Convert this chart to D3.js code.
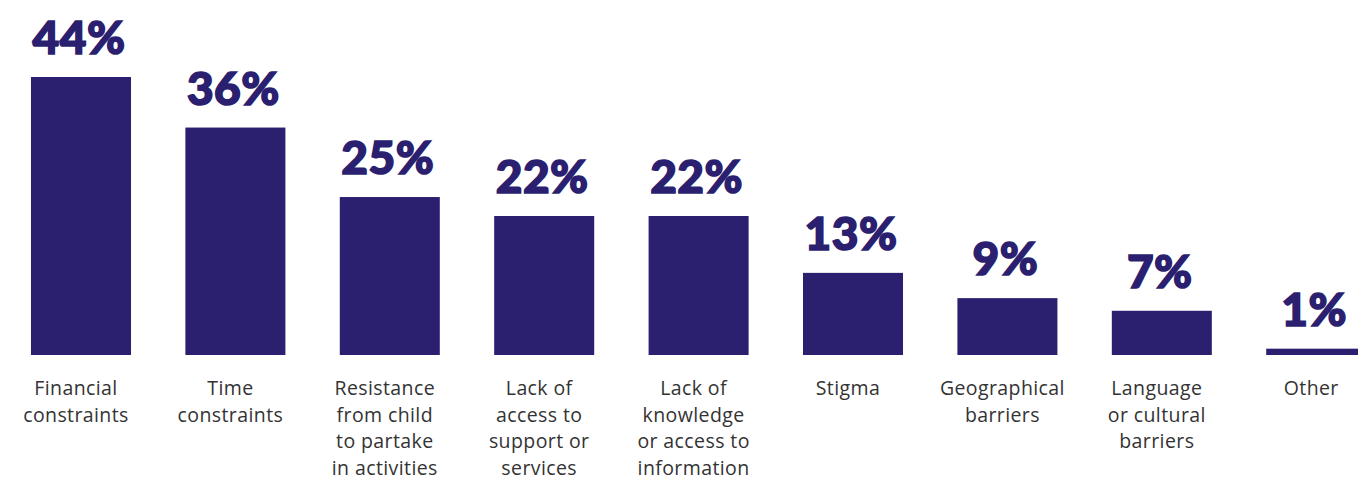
<!DOCTYPE html>
<html>
<head>
<meta charset="utf-8">
<script src="https://cdn.jsdelivr.net/npm/d3@7"></script>
<style>
  body { margin: 0; background: #fff; overflow: hidden; }
  .value { font-family: "Lato", "Inter", sans-serif; font-weight: 900; fill: #2b1f70; stroke: #2b1f70; stroke-width: 1.6; }
  .cat { font-family: "Open Sans", "Noto Sans", sans-serif; fill: #333; }
</style>
</head>
<body>
<div id="chart"></div>
<script>
// barriers data
const categories = [
  "Financial constraints",
  "Time constraints",
  "Resistance from child to partake in activities",
  "Lack of access to support or services",
  "Lack of knowledge or access to information",
  "Stigma",
  "Geographical barriers",
  "Language or cultural barriers",
  "Other"
];
const labelLines = [
  ["Financial", "constraints"],
  ["Time", "constraints"],
  ["Resistance", "from child", "to partake", "in activities"],
  ["Lack of", "access to", "support or", "services"],
  ["Lack of", "knowledge", "or access to", "information"],
  ["Stigma"],
  ["Geographical", "barriers"],
  ["Language", "or cultural", "barriers"],
  ["Other"]
];
const values = [44, 36, 25, 22, 22, 13, 9, 7, 1];

const width = 1358, height = 478;
const baseline = 355;

const svg = d3.select("#chart")
  .append("svg")
  .attr("width", width)
  .attr("height", height);

const x = d3.scaleBand()
  .domain(categories)
  .range([3.8, 1393.4])
  .paddingInner(0.3523)
  .paddingOuter(0.176);

const y = d3.scaleLinear()
  .domain([0, 44])
  .range([baseline, 77]);

const data = categories.map((c, i) => ({ cat: c, value: values[i], lines: labelLines[i] }));

svg.selectAll("rect.bar")
  .data(data)
  .enter()
  .append("rect")
  .attr("class", "bar")
  .attr("x", d => x(d.cat))
  .attr("y", d => y(d.value))
  .attr("width", x.bandwidth())
  .attr("height", d => baseline - y(d.value))
  .attr("fill", "#2b1f70");

svg.selectAll("text.value")
  .data(data)
  .enter()
  .append("text")
  .attr("class", "value")
  .attr("x", d => x(d.cat) + x.bandwidth() / 2 - 2)
  .attr("y", d => y(d.value) - 23)
  .attr("text-anchor", "middle")
  .attr("font-size", 46)
  .attr("letter-spacing", "0.5")
  .text(d => d.value + "%");

// category labels sit a little left of the bar centre
const cats = svg.selectAll("text.cat")
  .data(data)
  .enter()
  .append("text")
  .attr("class", "cat")
  .attr("text-anchor", "middle")
  .attr("font-size", 19.5)
  .attr("letter-spacing", "0.4")
  .attr("y", 395);

cats.selectAll("tspan")
  .data(d => d.lines.map(l => ({ l, cx: x(d.cat) + x.bandwidth() / 2 - 5 })))
  .enter()
  .append("tspan")
  .attr("x", d => d.cx)
  .attr("dy", (d, i) => i === 0 ? 0 : 26.5)
  .text(d => d.l);
</script>
</body>
</html>
